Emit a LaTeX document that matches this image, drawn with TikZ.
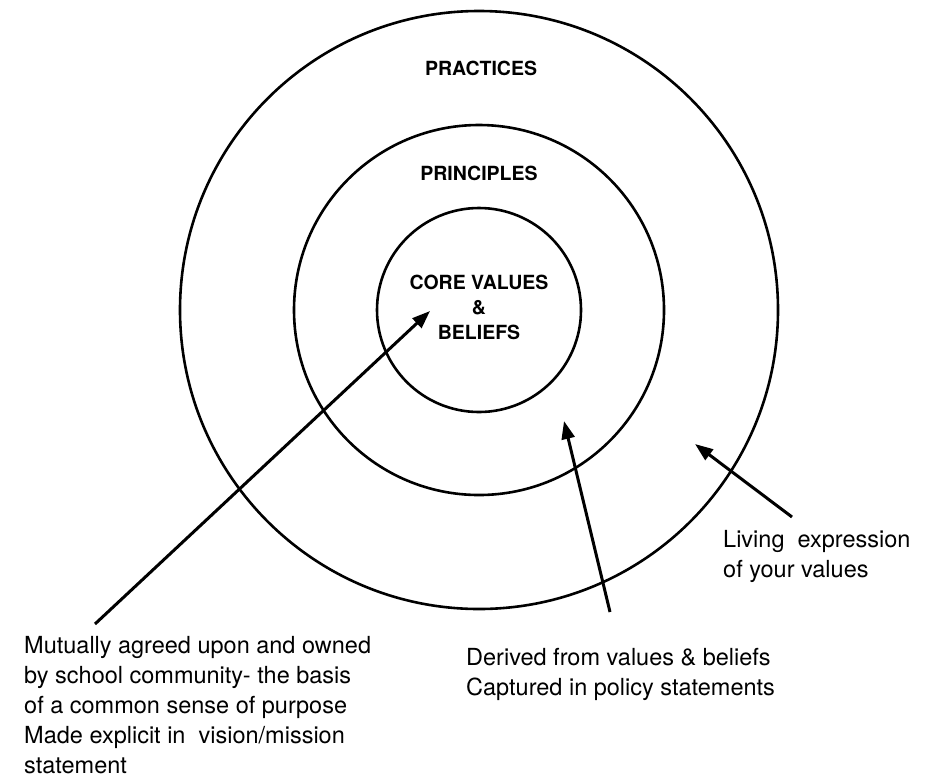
\documentclass[tikz,border=0pt]{standalone}
\usepackage{fontspec}
\setmainfont{TeX Gyre Heros}
\usetikzlibrary{arrows.meta}
\begin{document}
\begin{tikzpicture}[x=1pt,y=-1pt,
  ring/.style={draw=black,line width=2.6pt,circle,inner sep=0pt},
  ptr/.style={draw=black,line width=3pt,-{Triangle[length=18pt,width=13pt]}},
  title/.style={font=\fontsize{19.5}{25}\selectfont\bfseries,align=center},
  note/.style={font=\fontsize{23.5}{30}\selectfont,align=left,anchor=north west,inner sep=0pt}]
\useasboundingbox (0,0) rectangle (925,780);
\node[ring,minimum size=598pt] (outer) at (479,310) {};
\node[ring,minimum size=370pt] (middle) at (479,310) {};
\node[ring,minimum size=204pt] (inner) at (479,310) {};
\node[title] (practices) at (481,68) {PRACTICES};
\node[title] (principles) at (479,173) {PRINCIPLES};
\node[title] (core) at (479,307) {CORE VALUES\\\&\\BELIEFS};
\coordinate (s1) at (95,624);
\coordinate (t1) at (430,311);
\coordinate (s2) at (610,612);
\coordinate (t2) at (564,421);
\coordinate (s3) at (792,517);
\coordinate (t3) at (695,444);
\draw[ptr] (s1) -- (t1);
\draw[ptr] (s2) -- (t2);
\draw[ptr] (s3) -- (t3);
\node[note] (living) at (723,530) {Living\ \ expression\\of your values};
\node[note] (derived) at (466,648) {Derived from values \& beliefs\\Captured in policy statements};
\node[note] (mutual) at (24,636) {Mutually agreed upon and owned\\by school community- the basis\\of a common sense of purpose\\Made explicit in\ \ vision/mission\\statement};
\end{tikzpicture}
\end{document}
